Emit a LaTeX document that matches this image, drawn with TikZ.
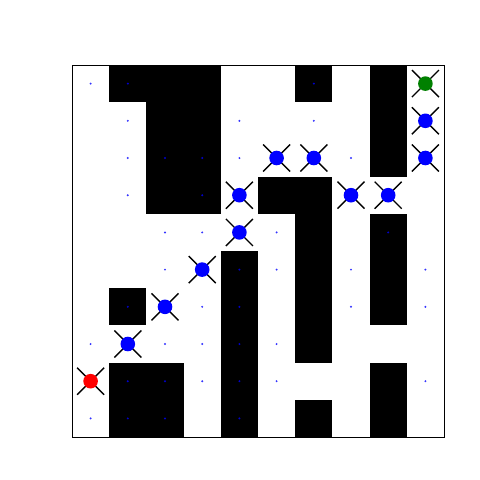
\documentclass[tikz,border=0pt]{standalone}
\begin{document}
\begin{tikzpicture}[x=1pt,y=-1pt,
  wall/.style={fill=black,draw=none},
  pt/.style={fill=blue,draw=none,opacity=0.8},
  xmark/.style={draw=black,line width=1.4pt},
  bigdot/.style={draw=none}]
\useasboundingbox (0,0) rectangle (480,480);
\fill[white] (0,0) rectangle (480,480);
\def\cs{37.2}
% walls
\foreach \c/\r in {1/0,2/0,3/0,6/0,8/0, 2/1,3/1,8/1, 2/2,3/2,8/2, 2/3,3/3,5/3,6/3,
  6/4,8/4, 4/5,6/5,8/5, 1/6,4/6,6/6,8/6, 4/7,6/7, 1/8,2/8,4/8,8/8, 1/9,2/9,4/9,6/9,8/9}
  \fill[wall] ({72+\cs*\c},{65+\cs*\r}) rectangle ({72+\cs*(\c+1)},{65+\cs*(\r+1)});
% small dots
\foreach \c/\r in {0/0,1/0,6/0, 1/1,4/1,6/1, 1/2,2/2,3/2,4/2,7/2, 1/3,3/3, 2/4,3/4,5/4,8/4,
  2/5,4/5,5/5,7/5,9/5, 1/6,3/6,4/6,7/6,9/6, 0/7,2/7,3/7,4/7,5/7, 1/8,2/8,3/8,4/8,5/8,9/8,
  0/9,1/9,2/9,4/9}
  \fill[pt] ({72+\cs*(\c+0.5)},{65+\cs*(\r+0.5)}) circle (1.1);
% path markers
\foreach \c/\r/\col in {9/0/green!50!black, 9/1/blue, 5/2/blue, 6/2/blue, 9/2/blue, 4/3/blue,
  7/3/blue, 8/3/blue, 4/4/blue, 3/5/blue, 2/6/blue, 1/7/blue, 0/8/red}
{
  \coordinate (m) at ({72+\cs*(\c+0.5)},{65+\cs*(\r+0.5)});
  \draw[xmark] ([shift={(-13.5,-13.5)}]m) -- ([shift={(13.5,13.5)}]m);
  \draw[xmark] ([shift={(-13.5,13.5)}]m) -- ([shift={(13.5,-13.5)}]m);
  \fill[bigdot,fill=\col] (m) circle (7.3);
}
% frame
\draw[line width=1pt] (72,65) rectangle (444,437);
\end{tikzpicture}
\end{document}
